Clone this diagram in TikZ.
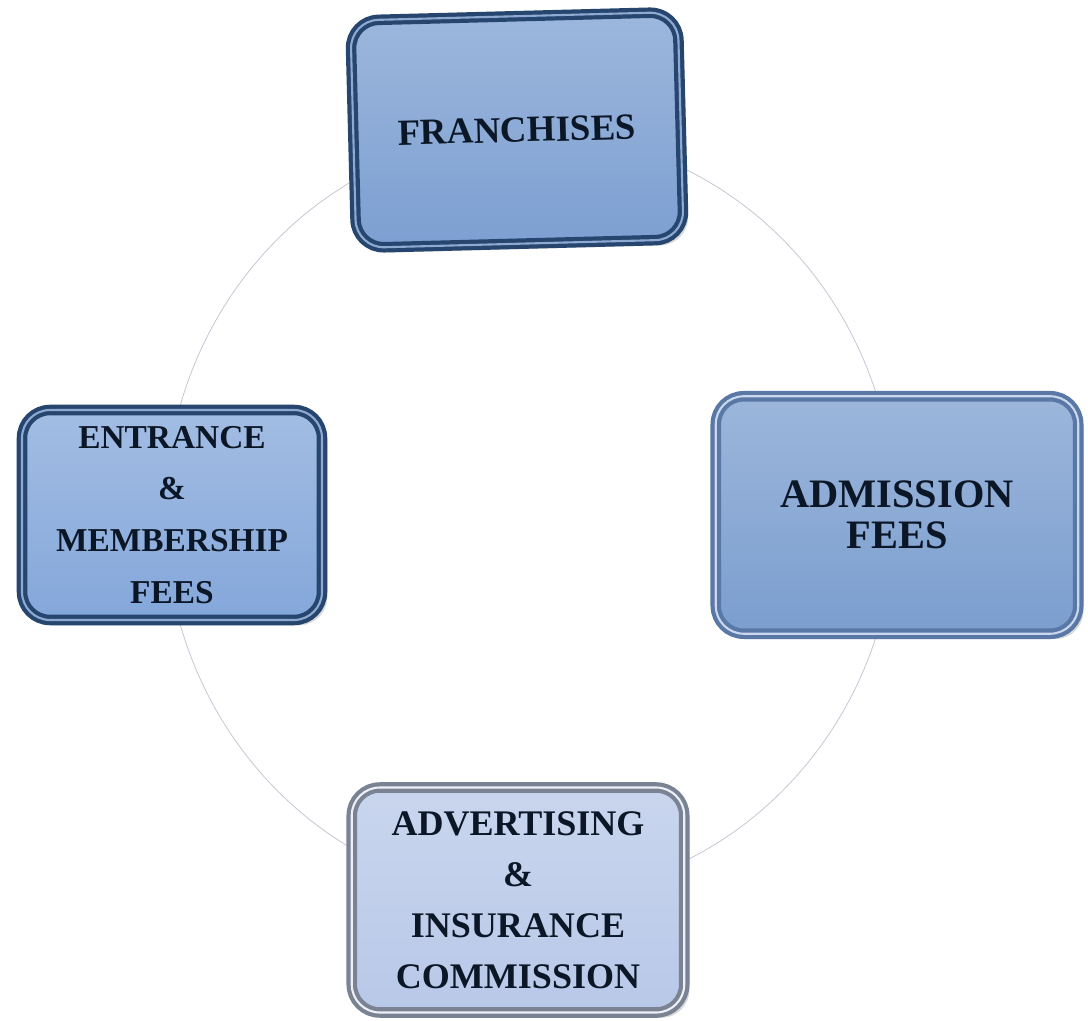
\documentclass[tikz,border=0pt]{standalone}
\usepackage{fontspec}
\setmainfont{Liberation Serif}
\usetikzlibrary{shadows}
\definecolor{ringgray}{HTML}{C2C7D2}
\definecolor{feetext}{HTML}{0B1626}
\definecolor{darkedge}{HTML}{27466F}
\definecolor{darkrim}{HTML}{8FAAD2}
\definecolor{paleedge}{HTML}{5A78A6}
\definecolor{palerim}{HTML}{C9D8EE}
\definecolor{greyedge}{HTML}{7A8394}
\definecolor{greyrim}{HTML}{EDF0F6}
\definecolor{franchisefill}{HTML}{7C9FD1}
\definecolor{entrancefill}{HTML}{84A7DA}
\definecolor{admissionfill}{HTML}{7B9ECF}
\definecolor{advertfill}{HTML}{B8C8E8}
\begin{document}
\begin{tikzpicture}[
	feebox/.style = {draw = darkedge, double = darkrim, double distance = 1.2pt, line width = 2.4pt,
		rounded corners = 16pt, align = center, text = feetext, shading = axis,
		top color = #1!75!white, bottom color = #1,
		drop shadow = {shadow xshift = 3pt, shadow yshift = -3pt, opacity = .3, fill = gray}},
	ring/.style = {draw = ringgray, line width = .45pt}
]
	\useasboundingbox (0,0) rectangle (21.76,20.4);

	% the ring behind the four boxes
	\coordinate (ring) at (10.6,10.1);
	\draw[ring] (ring) ellipse [x radius = 7.3, y radius = 7.64];

	\node[feebox = franchisefill, rotate = 1.5, minimum width = 6.55cm, minimum height = 4.55cm,
		font = \bfseries\fontsize{21}{25}\selectfont] (franchises) at (10.34,17.8) {FRANCHISES};

	\node[feebox = entrancefill, minimum width = 6.0cm, minimum height = 4.2cm,
		font = \bfseries\fontsize{19}{29.5}\selectfont] (entrance) at (3.44,10.1)
		{ENTRANCE\\ \&\\ MEMBERSHIP\\ FEES};

	\node[feebox = admissionfill, draw = paleedge, double = palerim,
		minimum width = 7.25cm, minimum height = 4.75cm,
		font = \bfseries\fontsize{23}{23}\selectfont] (admission) at (17.94,10.1)
		{ADMISSION\\ FEES};

	\node[feebox = advertfill, draw = greyedge, double = greyrim,
		minimum width = 6.65cm, minimum height = 4.5cm,
		font = \bfseries\fontsize{20.5}{29}\selectfont] (advertising) at (10.36,2.4)
		{ADVERTISING\\ \&\\ INSURANCE\\ COMMISSION};
\end{tikzpicture}
\end{document}
